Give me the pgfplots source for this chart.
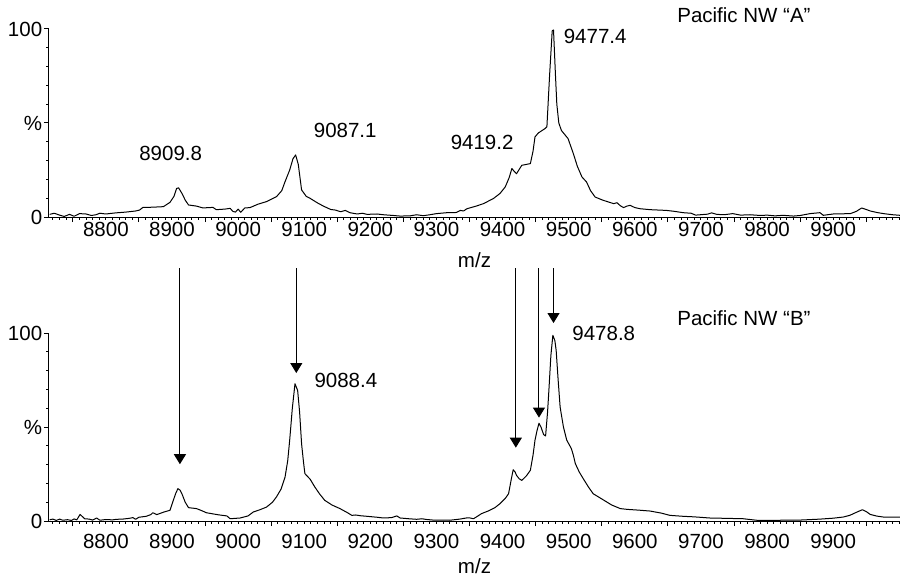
\documentclass[border=0pt]{standalone}
\usepackage{fontspec}
\setmainfont{Liberation Sans}
\usepackage{pgfplots}
\pgfplotsset{compat=1.18}
\usetikzlibrary{arrows.meta}

\pgfplotsset{
  msaxis/.style={
    scale only axis, width=425.5pt, height=94pt,
    xmin=8714, xmax=10001, ymin=0, ymax=100,
    clip=false,
    scaled x ticks=false, scaled y ticks=false,
    axis x line*=bottom, axis y line*=left,
    axis line style={-, line width=0.5pt, black},
    tick align=outside,
    major tick length=2.6pt, minor tick length=1.3pt,
    every tick/.style={line width=0.5pt, black},
    xtick={8750,8850,...,9950}, xticklabels={},
    minor xtick={8720,8730,...,10000},
    extra x ticks={8800,8900,9000,9100,9200,9300,9400,9500,9600,9700,9800,9900},
    extra x tick labels={8800,8900,9000,9100,9200,9300,9400,9500,9600,9700,9800,9900},
    extra x tick style={tick style={draw=none}},
    ytick={0,50,100}, yticklabels={0,\%,100},
    minor ytick={10,20,30,40,60,70,80,90},
    /pgf/number format/assume math mode=true,
    yticklabel style={inner sep=0pt, anchor=east, xshift=-0.6pt},
    xticklabel style={inner sep=0pt, anchor=north},
    xlabel={m/z},
    xlabel style={at={(axis description cs:0.5,0)}, anchor=center, inner sep=0pt},
  },
  spec/.style={black, line width=0.5pt, line join=round, mark=none},
}

\begin{document}
\fontsize{10.25pt}{12pt}\selectfont
\begin{tikzpicture}
\useasboundingbox (-24.5pt,-180.5pt) rectangle (425.5pt,108.5pt);
\begin{axis}[msaxis, at={(0,0)}, xlabel style={yshift=-21.5pt}]
\addplot[spec] table {
8715 1.4
8722 2.0
8730 1.0
8737 0.3
8745 1.4
8752 0.4
8760 1.8
8770 1.6
8778 0.8
8785 1.2
8791 2.0
8800 1.6
8815 2.2
8830 2.6
8845 3.2
8851 3.7
8856 5.1
8870 5.2
8887 5.5
8897 7.8
8903 11
8907 15.2
8910 15.5
8915 12.6
8920 9
8925 6.4
8937 5.8
8947 4.8
8955 5.0
8962 5.1
8967 3.9
8980 4.2
8988 4.6
8992 3.0
8996 2.6
9000 4.2
9004 2.5
9010 4.8
9018 5.0
9030 6.8
9043 8.2
9058 10.8
9066 14
9071 18.8
9078 25
9083 31
9087 33
9091 28
9096 14.4
9103 11
9109 9.9
9120 7.5
9129 5.8
9140 4
9147 3.7
9155 2.8
9162 3.5
9169 2.3
9180 1.6
9188 2.0
9195 1.4
9210 1.6
9220 1.2
9235 0.8
9245 0.5
9260 0.6
9270 1.2
9280 0.7
9290 1.2
9300 1.8
9316 2.3
9330 2.4
9336 3.5
9341 3.2
9346 4.4
9360 5.8
9371 7.1
9386 9.8
9396 12.5
9404 16
9410 21
9414 25.8
9417 24.5
9421 23
9429 27.5
9442 28.4
9446 35
9449 42.6
9454 44.7
9464 47
9467 48
9471 75
9475 99
9477 99.5
9480 75
9482 60
9485 50
9489 46
9499 41.7
9507 33.7
9513 27
9520 21.3
9527 18.6
9533 14
9540 10.6
9552 8.9
9568 7.1
9573 7.6
9578 6
9583 5
9588 5.8
9593 6.2
9600 5.0
9608 4.4
9623 3.9
9648 3.5
9660 3.0
9673 2.3
9685 2.0
9692 1.0
9699 1.2
9710 1.5
9716 2.2
9724 1.4
9735 1.2
9748 1.8
9760 1.0
9774 1.2
9790 0.8
9800 1.0
9812 0.6
9824 0.9
9840 0.5
9850 0.8
9865 1.8
9880 2.3
9885 0.9
9900 1.6
9926 1.8
9935 3
9943 4.8
9950 4.0
9956 3.2
9966 2.4
9976 1.8
9990 1.2
10001 0.9
};
\node at (axis cs:8898,34) {8909.8};
\node at (axis cs:9162,46.3) {9087.1};
\node at (axis cs:9369,39.4) {9419.2};
\node at (axis cs:9540,96.3) {9477.4};
\node at (axis cs:9765,107.4) {Pacific NW “A”};
\end{axis}

\begin{axis}[msaxis, at={(0,-152pt)}, xlabel style={yshift=-22.5pt},
  xticklabel style={yshift=-3.9pt}]
\addplot[spec] table {
8715 0.7
8720 1.0
8725 0.3
8730 1.0
8735 0.4
8742 0.7
8748 0.3
8752 1.1
8756 0.6
8761 3.5
8768 1.2
8775 1.0
8780 0.5
8786 1.6
8791 0.4
8800 0.8
8810 0.6
8816 0.9
8825 1.0
8835 1.4
8841 1.8
8845 0.9
8850 2.0
8861 2.5
8868 3.4
8871 4.4
8877 3.4
8888 4.8
8897 5.7
8902 11
8906 15
8909 17.2
8912 16.5
8915 14.5
8920 10
8925 7.1
8937 6.6
8945 5.5
8952 4.4
8970 3.3
8983 2.7
8988 1.2
9003 1.6
9015 2.7
9023 4.8
9033 6
9043 7.4
9052 10
9058 12.8
9065 17
9071 23.4
9075 32
9078 43
9082 60
9086 73
9090 69.5
9093 58
9096 41
9099 31
9101 25.2
9109 22.2
9116 18.1
9123 14.5
9131 11
9142 8.5
9154 6.6
9165 4.5
9172 3
9178 3.2
9185 2.8
9195 2.5
9210 2.0
9220 1.6
9232 1.8
9240 2.7
9245 1.6
9258 1.2
9270 0.9
9278 1.2
9285 0.8
9295 0.5
9320 0.4
9335 1.0
9345 1.6
9351 1.6
9356 1.2
9361 2.3
9368 3.9
9378 5.3
9388 7.0
9396 9.2
9404 12
9409 14.5
9413 22
9416 27.3
9419 26
9421 24.3
9425 22.5
9429 21.6
9436 24
9442 27
9446 35
9449 43
9452 48
9455 52
9458 50
9462 46
9465 45.2
9468 58
9470 69.5
9473 88
9476 98.8
9479 96
9481 90.8
9484 75
9487 60.6
9492 50
9497 43
9504 38.5
9507 35
9510 30.5
9516 26
9522 22.5
9530 18
9537 14.5
9545 12.8
9552 11.3
9565 8.5
9578 6.6
9588 6.2
9605 5.8
9623 5.3
9640 4.2
9653 3
9673 2.5
9690 2.2
9713 1.6
9740 1.4
9764 1.2
9784 0.4
9820 0.4
9850 0.5
9880 1.0
9900 1.5
9915 2.1
9925 3.0
9933 4.3
9944 6
9950 5
9956 3.5
9966 2.6
9976 2.1
10001 2.1
};
\node at (axis cs:9163,74.5) {9088.4};
\node at (axis cs:9553,100) {9478.8};
\node at (axis cs:9765,107.7) {Pacific NW “B”};
\draw[line width=0.5pt, -{Triangle[width=6pt,length=5pt]}] (axis cs:8912,134.4) -- (axis cs:8912,30.2);
\draw[line width=0.5pt, -{Triangle[width=6pt,length=5pt]}] (axis cs:9088,134.4) -- (axis cs:9088,78.7);
\draw[line width=0.5pt, -{Triangle[width=6pt,length=5pt]}] (axis cs:9420,134.4) -- (axis cs:9420,39);
\draw[line width=0.5pt, -{Triangle[width=6pt,length=5pt]}] (axis cs:9455,134.4) -- (axis cs:9455,55);
\draw[line width=0.5pt, -{Triangle[width=6pt,length=5pt]}] (axis cs:9477,134.4) -- (axis cs:9477,105.3);
\end{axis}
\end{tikzpicture}
\end{document}
